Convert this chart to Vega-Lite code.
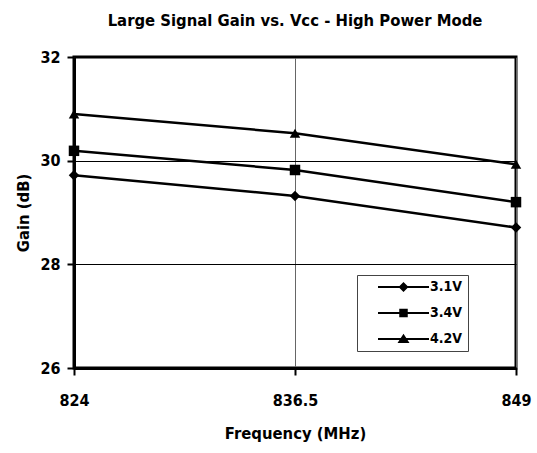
{
  "$schema": "https://vega.github.io/schema/vega-lite/v6.json",
  "width": 442,
  "height": 311,
  "autosize": {"type": "none"},
  "padding": {"left": 74, "top": 57, "right": 21, "bottom": 85},
  "background": "white",
  "title": {
    "text": "Large Signal Gain vs. Vcc - High Power Mode",
    "font": "DejaVu Sans Condensed",
    "fontSize": 16.5,
    "fontWeight": "bold",
    "color": "black",
    "anchor": "middle",
    "frame": "group",
    "offset": 20
  },
  "config": {
    "view": {"stroke": "black", "strokeWidth": 3},
    "font": "DejaVu Sans Condensed",
    "axis": {
      "labelFont": "DejaVu Sans Condensed",
      "titleFont": "DejaVu Sans Condensed",
      "labelFontSize": 16,
      "titleFontSize": 16.5,
      "labelFontWeight": "bold",
      "titleFontWeight": "bold",
      "labelColor": "black",
      "titleColor": "black",
      "domainColor": "black",
      "domainWidth": 3,
      "tickColor": "black",
      "tickWidth": 2,
      "tickSize": 7
    }
  },
  "data": {
    "values": [
      {"freq": 824, "gain": 29.72, "series": "3.1V"},
      {"freq": 836.5, "gain": 29.32, "series": "3.1V"},
      {"freq": 849, "gain": 28.71, "series": "3.1V"},
      {"freq": 824, "gain": 30.19, "series": "3.4V"},
      {"freq": 836.5, "gain": 29.82, "series": "3.4V"},
      {"freq": 849, "gain": 29.2, "series": "3.4V"},
      {"freq": 824, "gain": 30.9, "series": "4.2V"},
      {"freq": 836.5, "gain": 30.53, "series": "4.2V"},
      {"freq": 849, "gain": 29.93, "series": "4.2V"}
    ]
  },
  "encoding": {
    "x": {
      "field": "freq",
      "type": "quantitative",
      "scale": {"domain": [824, 849], "nice": false, "zero": false},
      "axis": {
        "title": "Frequency (MHz)",
        "values": [824, 836.5, 849],
        "labelExpr": "'' + datum.value",
        "labelFlush": false,
        "labelPadding": 17,
        "titlePadding": 17,
        "grid": true,
        "gridColor": "#666666",
        "gridWidth": 1
      }
    },
    "y": {
      "field": "gain",
      "type": "quantitative",
      "scale": {"domain": [26, 32], "nice": false, "zero": false},
      "axis": {
        "title": "Gain (dB)",
        "values": [26, 28, 30, 32],
        "labelPadding": 7,
        "titlePadding": 8,
        "grid": true,
        "gridColor": "black",
        "gridWidth": 1
      }
    }
  },
  "resolve": {"scale": {"shape": "independent"}, "legend": {"shape": "independent"}},
  "layer": [
    {
      "mark": {"type": "line", "color": "black", "strokeWidth": 2.5},
      "encoding": {"detail": {"field": "series", "type": "nominal"}}
    },
    {
      "mark": {"type": "point", "filled": true, "color": "black", "opacity": 1, "size": 110},
      "encoding": {
        "shape": {
          "field": "series",
          "type": "nominal",
          "scale": {"domain": ["3.1V", "3.4V", "4.2V"], "range": ["diamond", "square", "triangle-up"]},
          "legend": null
        }
      }
    },
    {
      "mark": {"type": "point", "filled": true, "color": "black", "opacity": 0},
      "encoding": {
        "shape": {
          "field": "series",
          "type": "nominal",
          "scale": {
            "domain": ["3.1V", "3.4V", "4.2V"],
            "range": [
              "M-5.1,-0.2H5.1V0.2H-5.1Z M0,-1L1,0L0,1L-1,0Z",
              "M-5.1,-0.2H5.1V0.2H-5.1Z M-0.85,-0.85H0.85V0.85H-0.85Z",
              "M-5.1,-0.2H5.1V0.2H-5.1Z M0,-1.05L1.2,0.8H-1.2Z"
            ]
          },
          "legend": {
            "title": null,
            "orient": "none",
            "legendX": 283,
            "legendY": 218,
            "padding": 5,
            "strokeColor": "#444444",
            "fillColor": "white",
            "symbolSize": 100,
            "symbolOpacity": 1,
            "symbolFillColor": "black",
            "symbolStrokeWidth": 0,
            "symbolOffset": 34.5,
            "labelFont": "DejaVu Sans Condensed",
            "labelFontSize": 14,
            "labelFontWeight": "bold",
            "labelColor": "black",
            "labelOffset": 19.5,
            "rowPadding": 12,
            "labelExpr": "datum.label + '\u2003\u2003'"
          }
        }
      }
    }
  ]
}
